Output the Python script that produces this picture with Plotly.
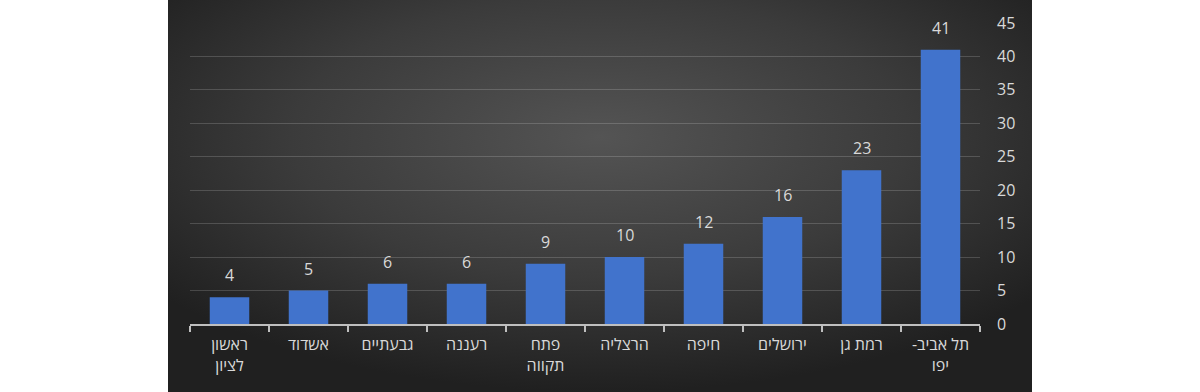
import base64
import plotly.graph_objects as go

# Data (left to right as shown)
categories = ["ראשון<br>לציון", "אשדוד", "גבעתיים", "רעננה", "פתח<br>תקווה",
              "הרצליה", "חיפה", "ירושלים", "רמת גן", "תל אביב-\u200f<br>יפו"]
values = [4, 5, 6, 6, 9, 10, 12, 16, 23, 41]
y_ticks = [0, 5, 10, 15, 20, 25, 30, 35, 40, 45]

W, H = 1200, 392
ML, MR, MT, MB = 190, 220, 23, 68
PW, PH = W - ML - MR, H - MT - MB
PANEL_L, PANEL_R = 168, 1032

svg = ('<svg xmlns="http://www.w3.org/2000/svg" width="864" height="392" viewBox="0 0 864 392" preserveAspectRatio="none">'
       '<defs><radialGradient id="g" cx="50%" cy="35%" r="65%">'
       '<stop offset="0" stop-color="#545454"/><stop offset="0.55" stop-color="#3b3b3b"/>'
       '<stop offset="1" stop-color="#202020"/></radialGradient></defs>'
       '<rect width="864" height="392" fill="url(#g)"/></svg>')
bg_src = "data:image/svg+xml;base64," + base64.b64encode(svg.encode()).decode()

font_family = "Open Sans, Liberation Sans, DejaVu Sans, sans-serif"
txt_color = "#d9d9d9"

fig = go.Figure()
fig.add_trace(go.Bar(
    x=categories, y=values,
    marker=dict(color="#4173cc", line=dict(width=0)),
    hoverinfo="skip",
))

for c, v in zip(categories, values):
    fig.add_annotation(x=c, y=v, text=str(v), showarrow=False, yanchor="bottom",
                       yshift=9, font=dict(size=16, color=txt_color, family=font_family))

fig.add_layout_image(dict(
    source=bg_src, xref="paper", yref="paper",
    x=(PANEL_L - ML) / PW, y=(H - MB) / PH,
    sizex=(PANEL_R - PANEL_L) / PW, sizey=H / PH,
    xanchor="left", yanchor="top", sizing="stretch", layer="below",
))

fig.update_layout(
    width=W, height=H, autosize=False,
    margin=dict(l=ML, r=MR, t=MT, b=MB, pad=0),
    paper_bgcolor="white", plot_bgcolor="rgba(0,0,0,0)",
    bargap=0.5, showlegend=False,
    font=dict(family=font_family, color=txt_color),
)
fig.update_xaxes(
    type="category", showgrid=False, showline=True, linecolor="#bfbfbf", linewidth=1.5,
    ticks="outside", tickson="boundaries", ticklen=6, tickcolor="#bfbfbf", tickwidth=1.5,
    tickfont=dict(size=16, color=txt_color, family=font_family), ticklabelstandoff=5,
    fixedrange=True,
)
fig.update_yaxes(
    side="right", range=[0, 45], tickvals=y_ticks, showgrid=True,
    gridcolor="rgba(255,255,255,0.17)", gridwidth=1, zeroline=False, showline=False,
    ticks="", tickfont=dict(size=16, color=txt_color, family=font_family),
    ticklabelstandoff=16, fixedrange=True,
)

fig.write_html("out.html", config={"displayModeBar": False},
               post_script="document.body.style.margin='0';document.body.style.overflow='hidden';")
